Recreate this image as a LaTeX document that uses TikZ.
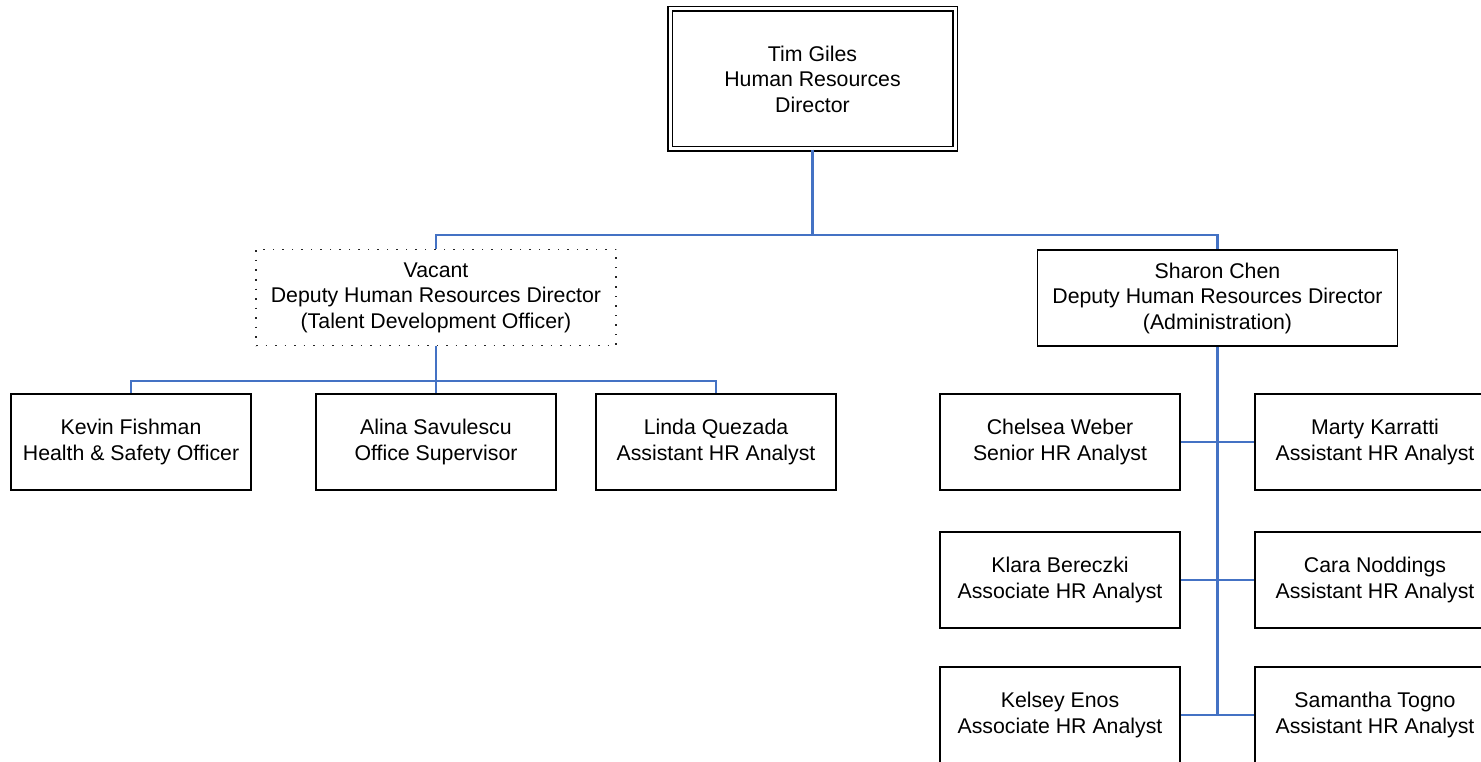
\documentclass[tikz,border=0pt]{standalone}
\usepackage{fontspec}
\setmainfont{Liberation Sans}
\definecolor{linkblue}{RGB}{68,114,196}
\begin{document}
\begin{tikzpicture}[x=1pt,y=-1pt,
	person/.style={draw,line width=1.6pt,fill=white,align=center,minimum width=240pt,minimum height=96pt,inner sep=0pt,font=\fontsize{21.3}{25.5}\selectfont},
	deputy/.style={person,minimum width=360pt},
	vacant/.style={deputy,draw=black!85,dash pattern=on 1.5pt off 8pt},
	director/.style={person,draw,line width=1.5pt,double,double distance=3pt,minimum width=285pt,minimum height=140pt},
	link/.style={draw=linkblue,line width=2.2pt}]
				\useasboundingbox (0,0) rectangle (1481,762);
				\node[director] (hrd) at (812.5,79) {Tim Giles\\Human Resources\\Director};
				\node[vacant] (vac) at (436,297.5) {Vacant\\Deputy Human Resources Director\\(Talent Development Officer)};
				\node[deputy] (shc) at (1217.5,298) {Sharon Chen\\Deputy Human Resources Director\\(Administration)};
				\node[person] (kfi) at (131,442) {Kevin Fishman\\Health \& Safety Officer};
				\node[person] (asa) at (436,442) {Alina Savulescu\\Office Supervisor};
				\node[person] (lqu) at (716,442) {Linda Quezada\\Assistant HR Analyst};
				\node[person] (chw) at (1060,442) {Chelsea Weber\\Senior HR Analyst};
				\node[person] (kbe) at (1060,580) {Klara Bereczki\\Associate HR Analyst};
				\node[person] (ken) at (1060,715) {Kelsey Enos\\Associate HR Analyst};
				\node[person] (mka) at (1375,442) {Marty Karratti\\Assistant HR Analyst};
				\node[person] (cno) at (1375,580) {Cara Noddings\\Assistant HR Analyst};
				\node[person] (sto) at (1375,715) {Samantha Togno\\Assistant HR Analyst};
				\draw[link] (hrd.south) -- ++(0,85) coordinate (hbar);
				\draw[link] (vac.north) |- (hbar) -| (shc.north);
				\draw[link] (vac.south) -- (asa.north);
				\draw[link] (kfi.north) -- ++(0,-12) -| (lqu.north);
				\draw[link] (shc.south) -- (shc.south |- ken.east);
				\draw[link] (chw.east) -- (mka.west);
				\draw[link] (kbe.east) -- (cno.west);
				\draw[link] (ken.east) -- (sto.west);
			\end{tikzpicture}
\end{document}
